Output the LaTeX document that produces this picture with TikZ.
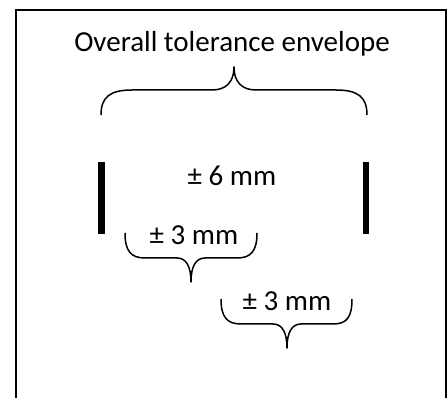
\documentclass[tikz,border=0pt]{standalone}
\usepackage{fontspec}
\setmainfont{Carlito}
\begin{document}
\begin{tikzpicture}[x=1pt,y=-1pt,
  lbl/.style={inner sep=0pt,font=\fontsize{29}{34}\selectfont},
  brace/.style={line width=1.5pt,line join=round},
  bar/.style={line width=6.5pt},
  frame/.style={line width=2pt}]
\useasboundingbox (0,0) rectangle (448,398);
% frame (open at bottom)
\draw[frame] (16,398) -- (16,10.5) -- (446,10.5) -- (446,398);
% title
\node[lbl] (title) at (232,44) {Overall tolerance envelope};
% big brace (tip up)
\draw[brace] (101,115) .. controls (101,97) and (110,90) .. (132,90)
  -- (212,90) .. controls (226,90) and (234,82) .. (234,67)
  .. controls (234,82) and (242,90) .. (256,90)
  -- (336,90) .. controls (358,90) and (367,97) .. (367,115);
% bars
\coordinate (lt) at (101.7,162.5);
\coordinate (lb) at (101.7,234);
\coordinate (rt) at (366,162.5);
\coordinate (rb) at (366,234);
\draw[bar] (lt) -- (lb);
\draw[bar] (rt) -- (rb);
\node[lbl] (six) at (232,176) {± 6 mm};
% small brace 1 (tip down)
\node[lbl] (threeA) at (194,235) {± 3 mm};
\draw[brace] (125,233) .. controls (125,251) and (131,258) .. (145,258)
  -- (177,258) .. controls (186,258) and (191,266) .. (191,282)
  .. controls (191,266) and (196,258) .. (205,258)
  -- (237,258) .. controls (251,258) and (257,251) .. (257,233);
% small brace 2
\node[lbl] (threeB) at (287,301) {± 3 mm};
\draw[brace] (221,299) .. controls (221,317) and (227,324) .. (241,324)
  -- (273,324) .. controls (282,324) and (287,332) .. (287,348)
  .. controls (287,332) and (292,324) .. (301,324)
  -- (333,324) .. controls (347,324) and (352,317) .. (352,299);
\end{tikzpicture}
\end{document}
